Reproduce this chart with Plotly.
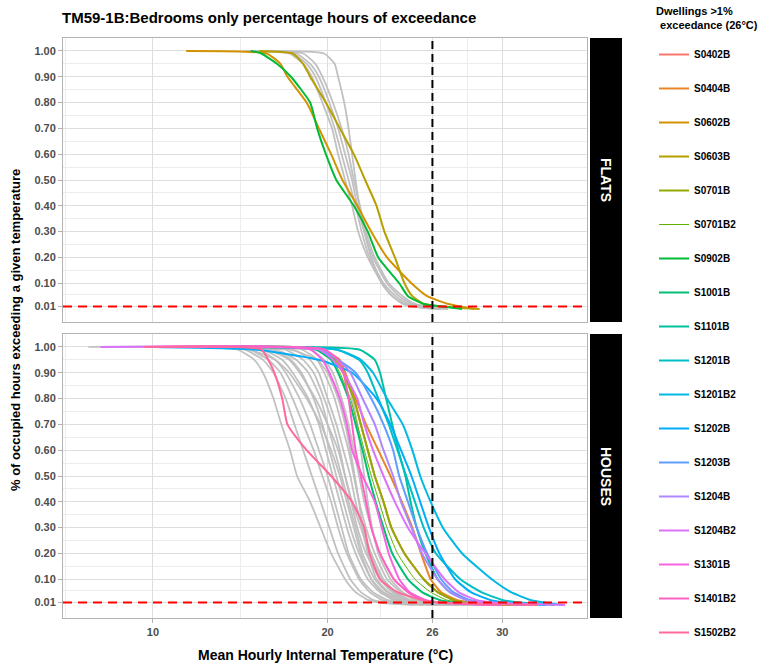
import plotly.graph_objects as go

# Fraction of occupied hours exceeding a temperature; each curve lists the
# temperature (°C) at which it reaches these fractions.
LEVELS = [1.00, 0.99, 0.95, 0.90, 0.80, 0.70, 0.60, 0.50, 0.40, 0.30, 0.20, 0.10, 0.05, 0.02, 0.01, 0.00]

# ---- Flats above 1 % exceedance ----
S0602B = [11.9, 16.5, 17.3, 17.7, 18.8, 19.5, 20.2, 20.85, 21.7, 22.5, 23.4, 24.8, 25.7, 26.9, 27.6, 28.4]
S0603B = [16.1, 18.0, 18.6, 19.0, 19.9, 20.7, 21.5, 22.15, 22.8, 23.25, 23.85, 24.4, 24.85, 25.5, 26.5, 28.7]
S0902B = [15.6, 16.2, 17.1, 17.9, 19.0, 19.4, 19.9, 20.5, 21.5, 22.3, 22.9, 24.1, 24.6, 25.5, 26.6, 27.7]

# Flats at or below 1 % exceedance
FLATS_OTHER = [
    [16.0, 19.8, 20.4, 20.6, 20.95, 21.2, 21.4, 21.6, 21.8, 22.1, 22.5, 23.1, 23.7, 24.3, 24.9, 26.4],
    [15.3, 17.8, 18.6, 19.1, 19.7, 20.25, 20.6, 21.0, 21.4, 21.75, 22.3, 23.1, 23.7, 24.4, 25.0, 26.1],
    [15.5, 18.0, 18.8, 19.3, 19.9, 20.4, 20.8, 21.2, 21.6, 21.95, 22.4, 23.2, 23.9, 24.6, 25.3, 26.5],
    [15.8, 18.2, 19.0, 19.5, 20.1, 20.6, 21.0, 21.4, 21.7, 22.1, 22.6, 23.4, 24.1, 24.8, 25.5, 26.8],
    [16.3, 18.6, 19.3, 19.7, 20.3, 20.8, 21.2, 21.5, 21.85, 22.2, 22.7, 23.5, 24.3, 25.0, 25.8, 26.9],
]

# ---- Houses above 1 % exceedance ----
S0402B = [12.0, 19.8, 20.4, 20.9, 21.5, 21.9, 22.3, 22.7, 23.2, 23.65, 24.4, 25.5, 26.3, 27.2, 28.0, 30.5]
S0404B = [12.0, 19.5, 20.7, 21.0, 21.6, 22.2, 22.9, 23.6, 24.25, 24.85, 25.35, 25.9, 26.5, 27.4, 28.3, 31.0]
S0701B = [12.0, 19.8, 20.4, 20.9, 21.5, 21.9, 22.3, 22.7, 23.2, 23.65, 24.4, 25.5, 26.3, 27.2, 28.0, 30.5]
S0701B2 = [12.5, 19.6, 20.3, 20.7, 21.3, 21.7, 22.1, 22.5, 22.95, 23.4, 24.0, 25.0, 25.9, 26.8, 27.6, 30.0]
S1001B = [12.5, 19.3, 20.2, 20.6, 21.2, 21.6, 22.0, 22.35, 22.75, 23.2, 23.7, 24.6, 25.4, 26.4, 27.3, 29.8]
S1101B = [13.0, 21.8, 22.7, 23.0, 23.35, 23.7, 24.05, 24.45, 24.75, 25.1, 25.6, 26.3, 27.0, 28.0, 29.0, 31.5]
S1201B = [13.0, 20.5, 21.8, 22.3, 22.9, 23.5, 24.0, 24.5, 25.0, 25.5, 26.2, 27.6, 28.8, 30.0, 31.0, 33.0]
S1201B2 = [13.5, 20.5, 21.9, 22.6, 23.4, 24.3, 24.85, 25.3, 25.9, 26.6, 27.7, 29.4, 30.5, 31.6, 32.4, 33.5]
S1202B = [10.0, 15.8, 19.5, 21.4, 22.8, 23.6, 24.2, 24.8, 25.3, 25.8, 26.4, 27.3, 28.2, 29.3, 30.2, 32.5]
S1203B = [11.0, 19.5, 20.6, 21.6, 22.5, 23.2, 23.75, 24.1, 24.6, 25.1, 25.7, 26.5, 27.2, 28.1, 29.0, 31.5]
S1204B = [11.0, 19.8, 20.6, 21.3, 22.0, 22.7, 23.2, 23.75, 24.2, 24.8, 25.4, 26.3, 27.0, 27.9, 28.8, 31.5]
S1204B2 = [7.0, 19.5, 20.3, 20.9, 21.7, 22.1, 22.6, 23.2, 23.85, 24.6, 25.6, 26.7, 27.5, 28.5, 29.5, 33.6]
S1301B = [10.0, 19.0, 19.7, 20.1, 20.7, 21.1, 21.4, 22.0, 22.7, 23.1, 23.5, 24.1, 24.7, 25.6, 26.5, 30.0]
S1401B2 = [10.5, 19.8, 20.6, 20.9, 21.2, 21.4, 21.6, 21.9, 22.2, 22.5, 23.0, 23.8, 24.6, 25.4, 26.3, 29.5]
S1502B2 = [9.5, 16.2, 16.6, 16.95, 17.4, 17.7, 18.8, 20.2, 21.4, 22.1, 22.4, 23.0, 24.0, 25.4, 26.5, 32.0]

# Houses at or below 1 % exceedance
HOUSES_OTHER = [
    [6.3, 14.8, 15.8, 16.3, 16.9, 17.35, 17.85, 18.25, 19.0, 19.6, 20.2, 21.0, 21.6, 22.3, 23.0, 25.0],
    [7.5, 15.2, 16.3, 16.9, 17.6, 18.1, 18.6, 19.1, 19.6, 20.1, 20.6, 21.3, 21.9, 22.6, 23.3, 25.5],
    [8.0, 15.5, 16.6, 17.3, 18.0, 18.6, 19.2, 19.7, 20.2, 20.6, 21.1, 21.8, 22.4, 23.1, 23.8, 26.0],
    [8.5, 16.0, 17.0, 17.6, 18.4, 19.0, 19.5, 20.0, 20.4, 20.8, 21.2, 21.9, 22.6, 23.4, 24.2, 26.3],
    [9.0, 16.2, 17.4, 18.0, 18.9, 19.5, 19.9, 20.3, 20.7, 21.1, 21.6, 22.3, 23.0, 23.8, 24.5, 27.0],
    [9.5, 16.8, 17.9, 18.5, 19.2, 19.7, 20.1, 20.5, 20.9, 21.3, 21.8, 22.5, 23.2, 24.0, 24.8, 27.0],
    [10.0, 17.0, 18.2, 18.9, 19.6, 20.0, 20.4, 20.8, 21.2, 21.6, 22.0, 22.7, 23.4, 24.2, 25.0, 27.5],
    [10.5, 17.5, 18.6, 19.2, 19.8, 20.3, 20.7, 21.0, 21.35, 21.7, 22.2, 23.0, 23.7, 24.5, 25.3, 28.0],
    [11.0, 18.0, 19.0, 19.5, 20.0, 20.5, 20.9, 21.3, 21.6, 22.0, 22.5, 23.2, 23.9, 24.7, 25.5, 28.0],
    [11.5, 18.5, 19.4, 19.8, 20.4, 20.8, 21.2, 21.5, 21.8, 22.2, 22.7, 23.4, 24.2, 25.0, 25.8, 28.5],
    [12.0, 19.0, 19.8, 20.3, 20.8, 21.2, 21.5, 21.8, 22.1, 22.5, 23.0, 23.8, 24.6, 25.4, 26.2, 29.0],
    [9.0, 15.5, 17.0, 17.8, 18.8, 19.6, 20.2, 20.7, 21.1, 21.5, 21.9, 22.5, 23.1, 23.8, 24.5, 26.5],
    [10.0, 16.5, 17.8, 18.4, 19.3, 20.0, 20.6, 21.0, 21.4, 21.9, 22.4, 23.1, 23.8, 24.6, 25.4, 27.5],
    [11.0, 17.8, 19.4, 20.0, 20.6, 21.0, 21.3, 21.55, 21.8, 22.0, 22.3, 22.8, 23.5, 24.3, 25.0, 27.0],
    [12.0, 19.5, 20.5, 21.0, 21.4, 21.7, 21.9, 22.1, 22.3, 22.55, 22.9, 23.6, 24.3, 25.1, 25.9, 28.5],
]

DWELLINGS = ["S0402B", "S0404B", "S0602B", "S0603B", "S0701B", "S0701B2", "S0902B", "S1001B",
             "S1101B", "S1201B", "S1201B2", "S1202B", "S1203B", "S1204B", "S1204B2", "S1301B",
             "S1401B2", "S1502B2"]
DWELLING_TYPE = ["HOUSES", "HOUSES", "FLATS", "FLATS", "HOUSES", "HOUSES", "FLATS", "HOUSES",
                 "HOUSES", "HOUSES", "HOUSES", "HOUSES", "HOUSES", "HOUSES", "HOUSES", "HOUSES",
                 "HOUSES", "HOUSES"]
DWELLING_TEMPS = [S0402B, S0404B, S0602B, S0603B, S0701B, S0701B2, S0902B, S1001B,
                  S1101B, S1201B, S1201B2, S1202B, S1203B, S1204B, S1204B2, S1301B,
                  S1401B2, S1502B2]
DWELLING_COLOURS = ["#F8766D", "#E88526", "#D39200", "#B79F00", "#93AA00", "#5EB300", "#00BA38",
                    "#00BF74", "#00C19F", "#00BFC4", "#00B9E3", "#00ADFA", "#619CFF", "#AE87FF",
                    "#DB72FB", "#F564E3", "#FF61C3", "#FF699C"]

PANELS = ["FLATS", "HOUSES"]
THRESHOLD_TEMP = 26
THRESHOLD_FRAC = 0.01
X_TICKS = [10, 20, 26, 30]
X_MINOR = [5, 15, 23, 28]
Y_TICKS = [0.01, 0.10, 0.20, 0.30, 0.40, 0.50, 0.60, 0.70, 0.80, 0.90, 1.00]
Y_MINOR = [0.055, 0.15, 0.25, 0.35, 0.45, 0.55, 0.65, 0.75, 0.85, 0.95]
LEGEND_TITLE = ["Dwellings >1%", " exceedance (26°C)"]

FONT = "Liberation Sans, Arial, sans-serif"
GREY_LINE = "rgba(190,190,190,0.95)"
AXIS_REF = {"FLATS": ("x", "y"), "HOUSES": ("x2", "y2")}

fig = go.Figure()

# Background dwellings in grey
for panel, group in (("FLATS", FLATS_OTHER), ("HOUSES", HOUSES_OTHER)):
    xa, ya = AXIS_REF[panel]
    for temps in group:
        fig.add_trace(go.Scatter(x=temps, y=LEVELS, mode="lines", xaxis=xa, yaxis=ya,
                                 line=dict(color=GREY_LINE, width=1.8, shape="spline",
                                           smoothing=0.5),
                                 showlegend=False, hoverinfo="skip"))

# Dwellings above 1 % exceedance, coloured
for i, name in enumerate(DWELLINGS):
    xa, ya = AXIS_REF[DWELLING_TYPE[i]]
    width = 1.0 if name == "S0701B2" else 2.0
    fig.add_trace(go.Scatter(x=DWELLING_TEMPS[i], y=LEVELS, mode="lines", name=name,
                             xaxis=xa, yaxis=ya, legendgroup=name, legendrank=i + 1,
                             line=dict(color=DWELLING_COLOURS[i], width=width, shape="spline",
                                       smoothing=0.5)))

# Plot geometry (pixels of a 765 x 665 page)
W, H = 765, 665
ML, MR, MT, MB = 63, 143, 38, 47
PW, PH = W - ML - MR, H - MT - MB
panel_right = (587 - ML) / PW
top_dom = [(H - MB - 322) / PH, 1.0]
bot_dom = [0.0, (H - MB - 334) / PH]

grid_major = "#DEDEDE"
grid_minor = "#ECECEC"
border = "#B3B3B3"
tick_font = dict(family=FONT, size=11, color="#4D4D4D", weight="bold")

common_x = dict(range=[4.85, 34.85], tickvals=X_TICKS, showgrid=True, gridcolor=grid_major,
                gridwidth=1, zeroline=False, showline=True, linecolor=border, linewidth=1,
                mirror=True, minor=dict(tickvals=X_MINOR, showgrid=True, gridcolor=grid_minor,
                                        gridwidth=1),
                domain=[0, panel_right])
common_y = dict(range=[-0.05, 1.05], tickvals=Y_TICKS, tickformat=".2f", showgrid=True,
                gridcolor=grid_major, gridwidth=1, zeroline=False, showline=True,
                linecolor=border, linewidth=1, mirror=True, ticks="outside", ticklen=4,
                tickcolor=border, tickfont=tick_font,
                minor=dict(tickvals=Y_MINOR, showgrid=True, gridcolor=grid_minor, gridwidth=1))

fig.update_layout(
    width=W, height=H,
    margin=dict(l=ML, r=MR, t=MT, b=MB, autoexpand=False),
    paper_bgcolor="white", plot_bgcolor="white",
    font=dict(family=FONT, color="black"),
    xaxis=dict(common_x, anchor="y", matches="x2", showticklabels=False, ticks=""),
    yaxis=dict(common_y, domain=top_dom, anchor="x"),
    xaxis2=dict(common_x, anchor="y2", ticks="outside", ticklen=4, tickcolor=border,
                tickfont=tick_font),
    yaxis2=dict(common_y, domain=bot_dom, anchor="x2"),
    legend=dict(x=(654 - ML) / PW, xanchor="left", y=(H - MB - 40) / PH, yanchor="top",
                maxheight=640,
                font=dict(family=FONT, size=10, color="black", weight="bold"),
                tracegroupgap=15, itemwidth=30, bgcolor="rgba(0,0,0,0)"),
    title=dict(text="TM59-1B:Bedrooms only percentage hours of exceedance",
               x=62 / W, xanchor="left", y=1 - 18 / H, yanchor="middle",
               font=dict(family=FONT, size=15, color="black", weight="bold")),
    showlegend=True,
)

# Legend heading, one annotation per line
for k, (line_text, left_px, mid_px) in enumerate(zip(LEGEND_TITLE, (654, 655), (11, 25))):
    fig.add_annotation(text=line_text, xref="paper", yref="paper", x=(left_px - ML) / PW,
                       y=(H - MB - mid_px) / PH, xanchor="left", yanchor="middle",
                       showarrow=False,
                       font=dict(family=FONT, size=11, color="black", weight="bold"))

# Threshold reference lines and facet strips
for panel in PANELS:
    xa, ya = AXIS_REF[panel]
    fig.add_shape(type="line", xref=xa, yref=f"{ya} domain", x0=THRESHOLD_TEMP, x1=THRESHOLD_TEMP,
                  y0=0, y1=1, line=dict(color="black", width=2, dash="8px,5px"))
    fig.add_shape(type="line", xref=f"{xa} domain", yref=ya, x0=0, x1=1, y0=THRESHOLD_FRAC,
                  y1=THRESHOLD_FRAC, line=dict(color="#FF0000", width=2, dash="9px,6px"))

for panel, dom in (("FLATS", top_dom), ("HOUSES", bot_dom)):
    fig.add_shape(type="rect", xref="paper", yref="paper", x0=(590 - ML) / PW, x1=1.0,
                  y0=dom[0], y1=dom[1], fillcolor="black", line=dict(width=0))
    fig.add_annotation(text=panel, xref="paper", yref="paper", x=(606 - ML) / PW,
                       y=(dom[0] + dom[1]) / 2, textangle=90, showarrow=False,
                       xanchor="center", yanchor="middle",
                       font=dict(family=FONT, size=14, color="white", weight="bold"))

fig.add_annotation(text="% of occupied hours exceeding a given temperature", xref="paper",
                   yref="paper", x=(15 - ML) / PW, y=(H - MB - 330) / PH, textangle=-90,
                   showarrow=False, xanchor="center", yanchor="middle",
                   font=dict(family=FONT, size=13, color="black", weight="bold"))
fig.add_annotation(text="Mean Hourly Internal Temperature (°C)", xref="paper", yref="paper",
                   x=(325 - ML) / PW, y=-(655 - (H - MB)) / PH, showarrow=False,
                   xanchor="center", yanchor="middle",
                   font=dict(family=FONT, size=14, color="black", weight="bold"))

fig.write_html("out.html")
